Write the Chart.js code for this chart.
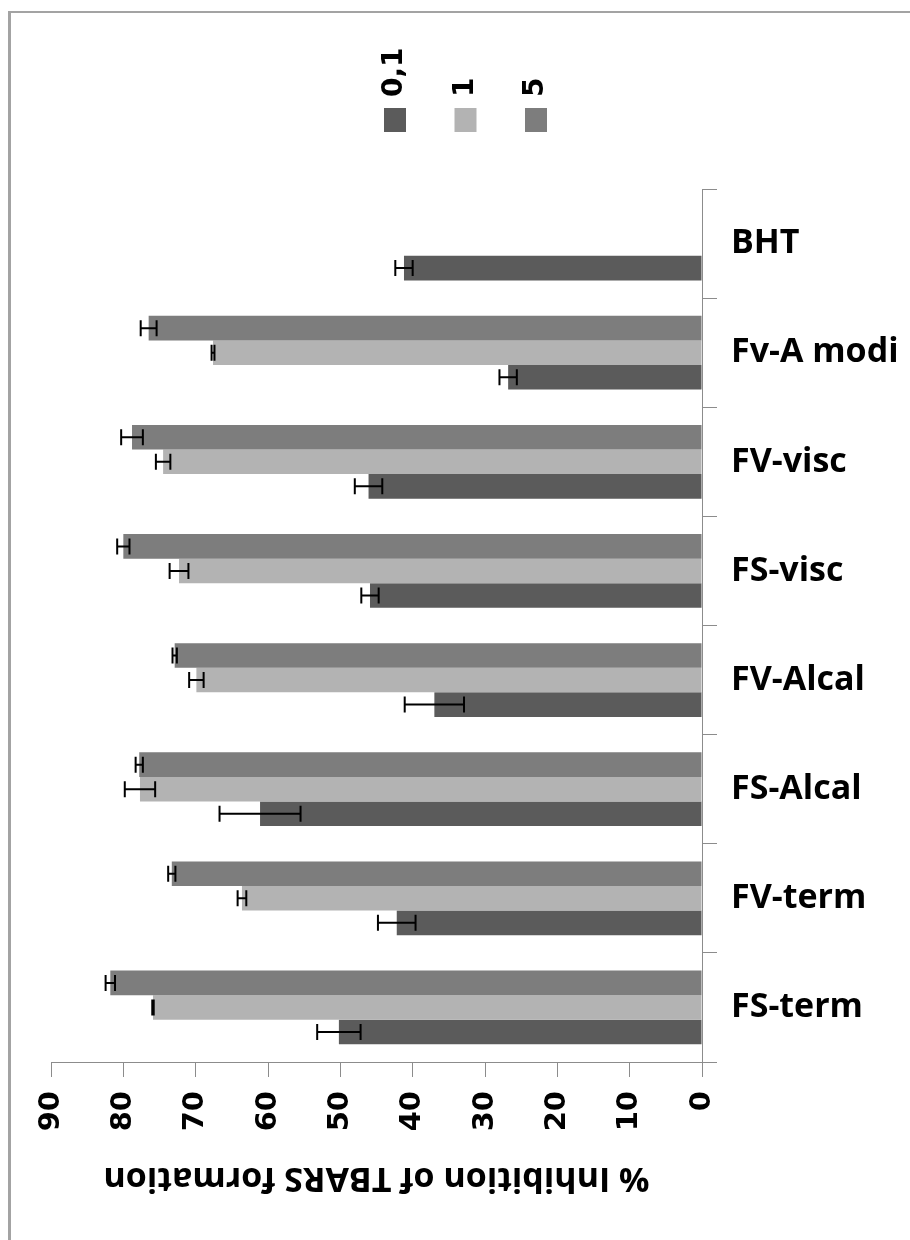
<!DOCTYPE html>
<html>
<head>
<meta charset="utf-8">
<script src="https://cdn.jsdelivr.net/npm/chart.js@4.4.1/dist/chart.umd.min.js"></script>
<style>
  html, body { margin: 0; padding: 0; background: #fff; overflow: hidden; }
  #wrap { position: relative; width: 910px; height: 1240px; }
  #c { position: absolute; left: 0; top: 0; }
  #frame { position: absolute; left: 8px; top: 11px; right: -10px; bottom: -10px;
           border-left: 3px solid #a3a3a3; border-top: 2px solid #a3a3a3; pointer-events: none; }
</style>
</head>
<body>
<div id="wrap">
  <canvas id="c" width="910" height="1240"></canvas>
  <div id="frame"></div>
</div>
<script>
// Samples (bottom to top on the category axis)
const categories = ['FS-term', 'FV-term', 'FS-Alcal', 'FV-Alcal', 'FS-visc', 'FV-visc', 'Fv-A modi', 'BHT'];

// Concentration series
const seriesNames = ['0,1', '1', '5'];

// % inhibition of TBARS formation per concentration
const inhibition01 = [50.2, 42.2, 61.1, 37.0, 45.9, 46.1, 26.8, 41.2];
const inhibition1  = [75.9, 63.6, 77.7, 69.9, 72.3, 74.5, 67.6, null];
const inhibition5  = [81.8, 73.3, 77.8, 72.9, 80.0, 78.8, 76.5, null];

// Standard deviations
const error01 = [3.0, 2.6, 5.6, 4.1, 1.2, 1.9, 1.2, 1.2];
const error1  = [0.1, 0.6, 2.1, 1.0, 1.3, 1.0, 0.2, null];
const error5  = [0.65, 0.5, 0.5, 0.3, 0.85, 1.5, 1.1, null];

// Value axis ticks
const valueTicks = [0, 10, 20, 30, 40, 50, 60, 70, 80, 90];

const axisTitle = '% Inhibition of TBARS formation';
const seriesColors = ['#5b5b5b', '#b3b3b3', '#7d7d7d'];
const axisColor = '#8c8c8c';

// Series in legend order; the bars are stacked top-down in reverse
const series = [
  { label: seriesNames[0], data: inhibition01, errors: error01, backgroundColor: seriesColors[0] },
  { label: seriesNames[1], data: inhibition1,  errors: error1,  backgroundColor: seriesColors[1] },
  { label: seriesNames[2], data: inhibition5,  errors: error5,  backgroundColor: seriesColors[2] }
];

// Whiskers for each bar: value ± error along the value axis
const errorBars = {
  id: 'errorBars',
  afterDatasetsDraw(chart) {
    const { ctx } = chart;
    const xs = chart.scales.x;
    ctx.save();
    ctx.strokeStyle = '#000';
    ctx.lineWidth = 2;
    chart.data.datasets.forEach((ds, i) => {
      const meta = chart.getDatasetMeta(i);
      meta.data.forEach((bar, j) => {
        const v = ds.data[j], e = ds.errors[j];
        if (v == null || e == null) return;
        const x1 = xs.getPixelForValue(v - e);
        const x2 = xs.getPixelForValue(v + e);
        const y = bar.y;
        ctx.beginPath();
        ctx.moveTo(x1, y); ctx.lineTo(x2, y);
        ctx.moveTo(x1, y - 8); ctx.lineTo(x1, y + 8);
        ctx.moveTo(x2, y - 8); ctx.lineTo(x2, y + 8);
        ctx.stroke();
      });
    });
    ctx.restore();
  }
};

// Legend: colour swatches with labels turned to read upward
const sideLegend = {
  id: 'sideLegend',
  afterDraw(chart) {
    const { ctx } = chart;
    ctx.save();
    series.forEach((s, i) => {
      const cx = 395 + i * 70.5;
      ctx.fillStyle = s.backgroundColor;
      ctx.fillRect(cx - 11, 108, 22, 24);
      ctx.save();
      ctx.translate(cx, 97);
      ctx.rotate(-Math.PI / 2);
      ctx.fillStyle = '#000';
      ctx.font = 'bold 28px "DejaVu Sans"';
      ctx.textAlign = 'left';
      ctx.textBaseline = 'middle';
      ctx.fillText(s.label, 0, 0);
      ctx.restore();
    });
    ctx.restore();
  }
};

// Value axis title, turned upside down under the tick labels
const flippedTitle = {
  id: 'flippedTitle',
  afterDraw(chart) {
    const { ctx, chartArea } = chart;
    ctx.save();
    ctx.translate((chartArea.left + chartArea.right) / 2, 1178);
    ctx.rotate(Math.PI);
    ctx.fillStyle = '#000';
    ctx.font = 'bold 34px "Open Sans"';
    ctx.textAlign = 'center';
    ctx.textBaseline = 'middle';
    ctx.fillText(axisTitle, 0, 0);
    ctx.restore();
  }
};

function draw() {
  new Chart(document.getElementById('c'), {
    type: 'bar',
    data: {
      labels: categories,
      datasets: series.slice().reverse()
    },
    options: {
      responsive: false,
      animation: false,
      indexAxis: 'y',
      layout: { padding: { top: 189, left: 51, right: 0, bottom: 0 } },
      datasets: { bar: { categoryPercentage: 0.675, barPercentage: 1 } },
      plugins: { legend: { display: false }, tooltip: { enabled: false } },
      scales: {
        x: {
          type: 'linear', position: 'bottom', reverse: true,
          min: valueTicks[0], max: valueTicks[valueTicks.length - 1],
          afterBuildTicks: s => { s.ticks = valueTicks.map(v => ({ value: v })); },
          ticks: { minRotation: 90, maxRotation: 90, padding: 14, color: '#000',
                   font: { family: 'DejaVu Sans', weight: 'bold', size: 29 } },
          grid: { drawOnChartArea: false, drawTicks: true, tickLength: 15, color: axisColor, lineWidth: 1 },
          border: { display: true, color: axisColor, width: 1 },
          afterFit: s => { s.height = 178; }
        },
        y: {
          type: 'category', position: 'right', reverse: true, offset: true,
          ticks: { padding: 14, color: '#000',
                   font: { family: 'Open Sans', weight: 'bold', size: 34 } },
          grid: { drawOnChartArea: false, drawTicks: true, tickLength: 15, offset: true, color: axisColor, lineWidth: 1 },
          border: { display: true, color: axisColor, width: 1 },
          afterFit: s => { s.width = 208; }
        }
      }
    },
    plugins: [errorBars, sideLegend, flippedTitle]
  });
}

Promise.all([
  document.fonts.load('bold 34px "Open Sans"'),
  document.fonts.load('bold 29px "DejaVu Sans"')
]).then(draw, draw);
</script>
</body>
</html>
